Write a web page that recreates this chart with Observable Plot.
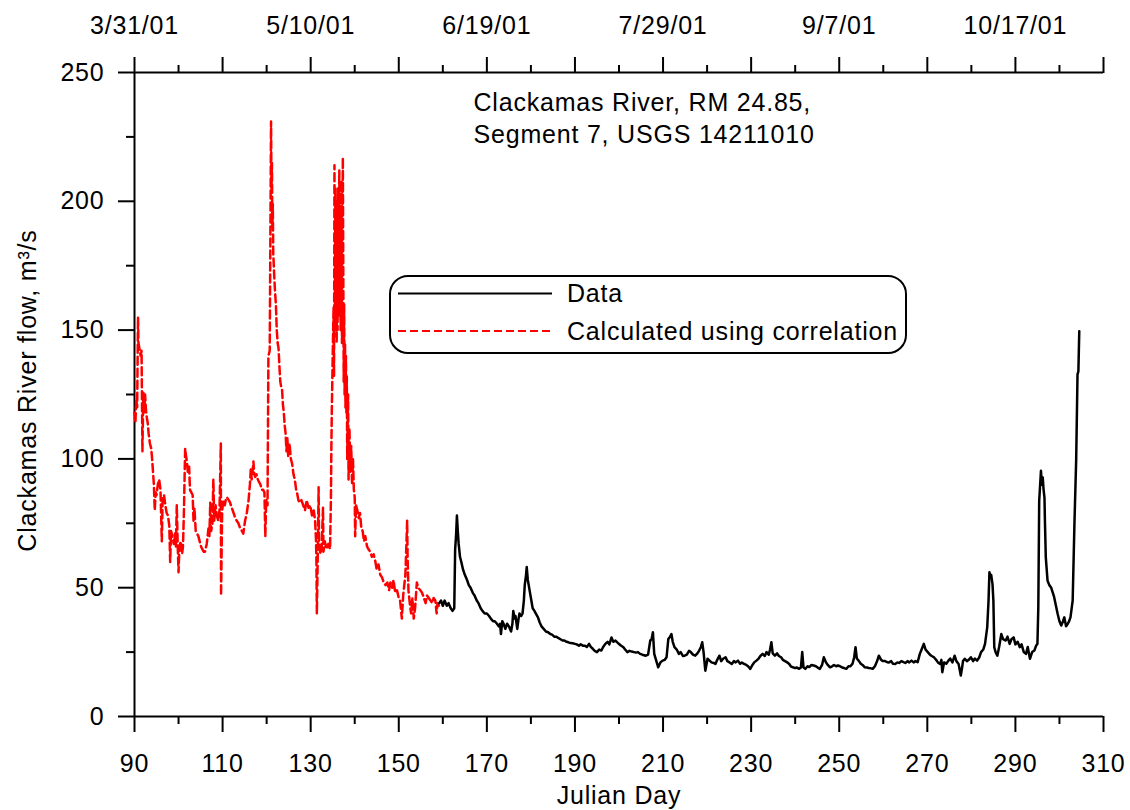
<!DOCTYPE html>
<html>
<head>
<meta charset="utf-8">
<script src="https://cdn.jsdelivr.net/npm/d3@7"></script>
<script src="https://cdn.jsdelivr.net/npm/@observablehq/plot@0.6"></script>
<style>
  body { margin: 0; background: #fff; }
  svg text { letter-spacing: 0.8px; }
</style>
</head>
<body>
<div id="chart"></div>
<script>
// ---------------- data ----------------
const calcDay = [90.0,90.2,90.4,90.6,90.8,90.9,91.1,91.4,91.6,91.8,92.0,92.2,92.4,92.6,92.8,93.0,93.2,93.5,93.8,94.0,94.2,94.4,94.6,94.8,95.0,95.3,95.6,95.9,96.2,96.4,96.7,97.0,97.3,97.6,97.9,98.1,98.3,98.6,98.9,99.2,99.4,99.6,99.8,100.0,100.2,100.5,100.8,101.0,101.2,101.5,101.7,101.9,102.1,102.4,102.6,102.9,103.2,103.4,103.6,103.9,104.2,104.5,104.8,105.1,105.4,105.7,106.0,106.4,106.8,107.0,107.2,107.4,107.7,107.9,108.1,108.4,108.7,109.0,109.3,109.6,109.65,109.9,110.2,110.5,110.8,111.0,111.4,111.7,112.1,112.5,112.9,113.2,113.6,114.0,114.4,114.7,115.1,115.5,115.9,116.2,116.4,116.6,116.8,117.0,117.2,117.4,117.7,118.0,118.3,118.6,118.9,119.2,119.5,119.7,119.9,120.2,120.4,120.7,121.0,121.1,121.2,121.3,121.4,121.5,121.7,121.9,122.1,122.3,122.5,122.7,122.9,123.1,123.3,123.5,123.7,123.9,124.1,124.3,124.5,124.7,124.9,125.2,125.5,125.8,126.1,126.4,126.7,126.9,127.2,127.5,127.9,128.3,128.7,129.1,129.5,129.9,130.3,130.7,131.0,131.2,131.3,131.4,131.6,131.8,131.9,132.2,132.5,132.8,132.9,133.2,133.6,134.0,134.4,134.6,134.7,134.8,135.0,135.2,135.3,135.4,135.5,135.6,135.7,135.8,135.9,136.0,136.1,136.2,136.3,136.4,136.5,136.6,136.7,136.8,136.9,137.0,137.1,137.2,137.3,137.4,137.5,137.6,137.7,137.8,137.9,138.0,138.1,138.2,138.3,138.5,138.6,138.8,139.0,139.2,139.4,139.6,139.8,140.0,140.1,140.3,140.6,140.9,141.2,141.5,141.8,142.1,142.4,142.8,143.1,143.5,143.9,144.3,144.7,145.0,145.4,145.8,146.2,146.6,147.0,147.4,147.8,148.1,148.5,148.8,149.2,149.6,150.0,150.3,150.7,151.0,151.5,151.7,151.9,152.0,152.2,152.5,152.8,153.1,153.4,153.7,154.1,154.4,154.9,155.3,155.7,156.1,156.4,156.8,157.2,157.6,157.9,158.3,158.6,158.8,159.1];
const calcFlow = [118,114,123,120,155,145,143,140,142,103,126,118,125,119,116,114,110,106,104,100,95,90,80,87,86,90,92,88,68,85,86,82,79,78,74,60,72,70,67,71,66,82,67,56,66,68,63,66,78,104,101,99,95,97,88,87,86,76,81,72,71,70,68,66,65,64,64,67,73,70,83,72,75,92,76,82,78,76,80,106,47,80,84,82,85,85,84,83,81,79,77,76,75,73,72,71,76,79,84,90,96,92,95,99,94,93,94,92,91,90,88,88,87,70,84,82,140,142,231,205,215,190,199,180,172,165,160,150,145,143,136,130,128,127,121,118,113,110,103,108,101,106,100,98,94,92,88,87,84,83,84,82,80,84,81,82,78,80,76,69,61,40,62,89,68,63,66,81,64,68,65,67,65,85,105,119,140,159,132,214,160,205,150,195,145,200,150,205,155,190,212,160,195,150,180,208,145,185,217,172,130,160,125,145,120,140,118,132,100,125,92,112,95,105,90,100,88,85,70,82,80,77,79,73,72,68,70,66,65,64,62,63,60,57,59,55,54,52,51,52,49,52,50,53,48,49,46,45,38,47,55,65,76,62,49,44,40,46,38,42,52,50,49,48,46,44,47,46,45,44,46,45,40,44,43];

const dataDay = [159.2,159.6,160.0,160.4,160.9,161.3,161.8,162.2,162.6,162.8,163.0,163.2,163.4,163.6,163.9,164.2,164.6,165.0,165.5,165.9,166.3,166.8,167.2,167.7,168.1,168.6,169.0,169.5,170.0,170.5,170.9,171.4,171.8,172.3,172.7,173.0,173.2,173.5,173.8,174.2,174.6,175.0,175.5,175.8,176.0,176.3,176.5,176.9,177.2,177.4,177.8,178.1,178.4,178.6,178.9,179.05,179.3,179.5,179.8,180.0,180.4,180.8,181.1,181.6,182.0,182.4,182.9,183.4,183.9,184.4,184.8,185.3,185.8,186.2,186.7,187.2,187.6,188.1,188.5,189.0,189.5,190.0,190.4,190.9,191.3,191.8,192.2,192.7,193.2,193.6,194.1,194.5,195.0,195.5,196.0,196.4,196.9,197.4,197.8,198.3,198.7,199.2,199.6,200.1,200.5,201.0,201.4,201.9,202.4,202.9,203.4,203.9,204.3,204.8,205.3,205.7,206.1,206.6,207.1,207.4,207.7,208.0,208.4,208.9,209.4,209.9,210.4,210.8,211.2,211.6,211.9,212.2,212.6,213.1,213.6,214.0,214.5,214.9,215.4,215.9,216.3,216.8,217.3,217.8,218.2,218.6,218.9,219.2,219.6,220.1,220.5,221.0,221.5,221.9,222.3,222.8,223.2,223.7,224.2,224.6,225.1,225.6,226.1,226.5,227.0,227.5,227.9,228.4,228.9,229.3,229.8,230.3,230.7,231.2,231.7,232.1,232.6,233.1,233.5,234.0,234.3,234.6,234.9,235.4,235.9,236.3,236.8,237.2,237.7,238.1,238.6,239.0,239.5,240.0,240.4,240.9,241.3,241.6,241.9,242.3,242.8,243.2,243.7,244.2,244.7,245.1,245.6,246.1,246.5,247.0,247.4,247.9,248.4,248.8,249.3,249.7,250.2,250.7,251.1,251.6,252.1,252.5,253.0,253.4,253.7,254.0,254.4,254.9,255.3,255.8,256.3,256.7,257.2,257.6,258.1,258.6,259.0,259.5,259.9,260.4,260.9,261.3,261.8,262.2,262.7,263.2,263.6,264.1,264.6,265.0,265.5,265.9,266.4,266.9,267.3,267.8,268.3,268.7,269.2,269.6,270.1,270.6,271.0,271.5,272.0,272.4,272.9,273.2,273.4,273.8,274.3,274.8,275.2,275.7,276.2,276.6,277.1,277.6,277.9,278.1,278.5,279.0,279.4,279.9,280.4,280.8,281.3,281.8,282.2,282.7,283.1,283.6,283.9,284.1,284.3,284.5,284.8,285.0,285.2,285.5,285.9,286.3,286.8,287.2,287.8,288.2,288.7,289.1,289.6,290.0,290.5,291.0,291.4,291.9,292.4,292.8,293.3,293.8,294.3,294.7,295.0,295.2,295.4,295.8,296.0,296.2,296.4,296.6,296.7,296.9,297.3,297.7,298.1,298.5,298.8,299.2,299.6,300.0,300.4,300.8,301.1,301.5,301.9,302.2,302.5,303.0,303.4,303.8,304.1,304.3,304.5];
const dataFlow = [44,45,43,45,43,44,42,41,42,65,70,78,72,67,62,60,57,55,53,51,50,48,47,45,44,42,41,40,40,39,38,37,37,36,35,36,32,37,36,34,36,35,33,36,41,38,39,34,38,40,39,40,45,51,55,58,53,51,48,46,42,41,40,38.5,36.5,35,34,33,32.7,32,31.8,31,31,30.5,30,29.5,29.5,29,28.8,28.5,28.4,28.2,28,27.5,28,27.5,27.5,27,28.2,27,26.2,25.5,25,26,25.6,27,28.2,29,28,30.7,29,29.5,28.8,28,27.5,26.9,26,25,25.5,25.2,25,24.8,25,24.3,24,23.8,23.6,24,29.5,30,32.7,24.3,22,19.1,21,21.7,22,23,30.1,31,32,29,26.9,26,24.3,25,23.5,23.6,24,25.5,25,24,23.6,24.5,25.6,27,28.8,25,17.8,22.4,21.8,21,20.8,20.4,22,23.6,21.5,22.5,23,21.5,21,20.4,21.5,21,21.7,20.5,21,20.4,20,19.5,18.5,20,21,21.7,22.5,23.5,24.3,23.5,25,24,26,28.8,24.5,23.6,24.5,23.5,23,22,21.5,21.1,20.5,19.5,19.1,18.8,19,18.5,19,25,19,18.5,19.5,19.2,20,19.8,19.5,19,18.5,20,23,21,20,19.1,19.5,20,19.5,19.8,19.5,19,18.8,18.5,19.5,19.5,20.4,23,26.9,22.5,21.7,20.5,20,19.1,19,18.8,18.7,18.5,19.5,21.5,23.6,22,21.5,21.5,21.1,21,21.5,20.5,20.4,21,20.8,21.5,21.1,20.8,21.5,21,21.7,21,21.5,21.1,24.3,26,28.2,26,25,24,23.5,23,22,21,20.4,22,17.2,21,20.5,21.7,22.5,21,23.6,21.5,20.4,15.9,19,21.5,22.4,21.5,22,23,21.5,22.5,21.7,23,25,26,28.2,34.6,45,56,54,55,51.4,45,26.9,25,23.6,27,32,30,29.5,31,28.2,30,30.7,28,29,26.9,28,25,24.3,27,22.4,25,25.6,27.5,28.2,42.4,83.7,95.4,90,92.8,88,85,76,61.8,52.7,51,50.1,48,46.3,43,39.8,37,35.3,37,38.5,35,36,37,38.5,45,74.7,99.9,132.8,134,149.6];

const xMajor = [90,110,130,150,170,190,210,230,250,270,290,310];
const xMinor = [100,120,140,160,180,200,220,240,260,280,300];
const yMajor = [0,50,100,150,200,250];
const yMinor = [25,75,125,175,225];
const topDays = [90,130,170,210,250,290];
const topDates = ["3/31/01","5/10/01","6/19/01","7/29/01","9/7/01","10/17/01"];
const seriesNames = ["Data","Calculated using correlation"];
const titleLines = ["Clackamas River, RM 24.85,","Segment 7, USGS 14211010"];
const xTitle = "Julian Day";
const yTitle = "Clackamas River flow, m\u00B3/s";

// ---------------- build ----------------
const calc = calcDay.map((d, i) => ({day: d, flow: calcFlow[i]}));
const meas = dataDay.map((d, i) => ({day: d, flow: dataFlow[i]}));

const FS = 25;
const chart = Plot.plot({
  width: 1130,
  height: 810,
  marginLeft: 134,
  marginRight: 27,
  marginTop: 72,
  marginBottom: 94,
  style: {fontFamily: "'Liberation Sans', Arial, sans-serif", fontSize: FS + "px", color: "#000", background: "#fff"},
  x: {domain: [90, 310]},
  y: {domain: [0, 250]},
  marks: [
    // bottom axis
    Plot.axisX({anchor: "bottom", ticks: xMajor, tickSize: 16, tickPadding: 22, tickFormat: "d", fontSize: FS, strokeWidth: 2, label: null}),
    Plot.axisX({anchor: "bottom", ticks: xMinor, tickSize: 8, tickFormat: () => "", strokeWidth: 2, label: null}),
    // top axis
    Plot.axisX({anchor: "top", ticks: xMajor, tickSize: 16, tickFormat: () => "", strokeWidth: 2, label: null}),
    Plot.axisX({anchor: "top", ticks: xMinor, tickSize: 8, tickFormat: () => "", strokeWidth: 2, label: null}),
    Plot.text(topDays, {x: d => d, text: (d, i) => topDates[i], frameAnchor: "top", lineAnchor: "middle", textAnchor: "middle", dy: -47, fontSize: FS}),
    // left axis
    Plot.axisY({anchor: "left", ticks: yMajor, tickSize: 16, tickPadding: 14, tickFormat: "d", fontSize: FS, strokeWidth: 2, label: null}),
    Plot.axisY({anchor: "left", ticks: yMinor, tickSize: 8, tickFormat: () => "", strokeWidth: 2, label: null}),
    // axis lines
    Plot.ruleY([0], {strokeWidth: 2}),
    Plot.ruleY([250], {strokeWidth: 2}),
    Plot.ruleX([90], {strokeWidth: 2}),
    // series
    Plot.line(calc, {x: "day", y: "flow", stroke: "#ff0000", strokeWidth: 2.5, strokeDasharray: "8,4"}),
    Plot.line(meas, {x: "day", y: "flow", stroke: "#000", strokeWidth: 2.5}),
    // axis titles
    Plot.text([xTitle], {frameAnchor: "bottom", lineAnchor: "middle", textAnchor: "middle", dy: 79, fontSize: FS}),
    Plot.text([yTitle], {frameAnchor: "left", lineAnchor: "middle", textAnchor: "middle", rotate: -90, dx: -107, dy: -4, fontSize: FS}),
    // annotation
    Plot.text([titleLines.join("\n")], {frameAnchor: "top-left", dx: 339, dy: 15, textAnchor: "start", lineAnchor: "top", lineHeight: 1.3, fontSize: FS})
  ]
});

document.getElementById("chart").appendChild(chart);

// ---------------- legend ----------------
const svg = d3.select(chart);
const lg = svg.append("g")
  .attr("font-family", "'Liberation Sans', Arial, sans-serif")
  .attr("font-size", FS)
  .attr("text-anchor", "start");
lg.append("rect").attr("x", 390).attr("y", 276).attr("width", 516).attr("height", 77)
  .attr("rx", 18).attr("ry", 18).attr("fill", "#fff").attr("stroke", "#000").attr("stroke-width", 2);
const legendStyles = [
  {stroke: "#000", dash: null},
  {stroke: "#ff0000", dash: "8,4"}
];
seriesNames.forEach((name, i) => {
  const yy = 293.5 + i * 37.5;
  const ln = lg.append("line").attr("x1", 398).attr("x2", 552).attr("y1", yy).attr("y2", yy)
    .attr("stroke", legendStyles[i].stroke).attr("stroke-width", 2);
  if (legendStyles[i].dash) ln.attr("stroke-dasharray", legendStyles[i].dash);
  lg.append("text").attr("x", 567).attr("y", yy).attr("dy", "0.35em")
    .attr("text-anchor", "start").attr("fill", "#000").text(name);
});
</script>
</body>
</html>
